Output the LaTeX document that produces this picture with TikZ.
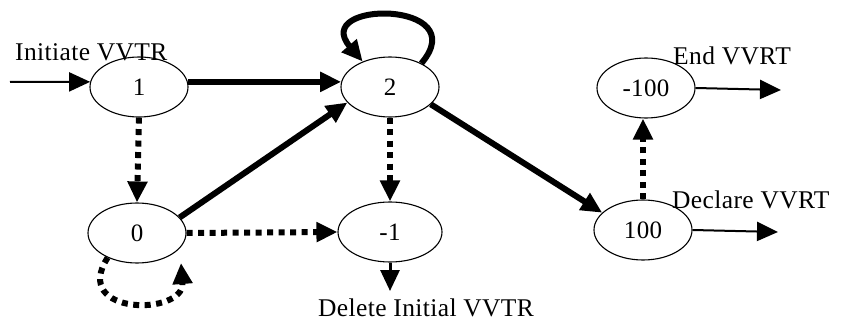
\documentclass[tikz,border=0pt]{standalone}
\usepackage{fontspec}
\setmainfont{Liberation Serif}[LetterSpace=1.5]
\usetikzlibrary{arrows.meta,shapes.geometric}
\tikzset{
  state/.style={draw, ellipse, line width=1.1pt, minimum width=98pt, minimum height=60pt, inner sep=0pt, font=\fontsize{25}{28}\selectfont},
  lbl/.style={font=\fontsize{25.5}{28}\selectfont, inner sep=0pt, anchor=base west},
  tip/.style={-{Triangle[length=21pt,width=19pt]}},
  thin/.style={tip, line width=2pt},
  thick/.style={tip, line width=6pt},
  dots/.style={tip, line width=6pt, dash pattern=on 6pt off 5.5pt}
}
\begin{document}
\begin{tikzpicture}[x=1pt,y=-1pt]
\useasboundingbox (0,0) rectangle (845,320);
\node[state] (n1) at (139,87) {1};
\node[state] (n2) at (390,87) {2};
\node[state] (n0) at (137,233) {0};
\node[state, minimum width=104pt] (nm1) at (390,232) {-1};
\node[state] (nm100) at (646,88) {-100};
\node[state] (n100) at (643,230) {100};

\coordinate (start) at (10,82);
\coordinate (l0) at (181,263);
\coordinate (del) at (390,291);
\coordinate (endout) at (781,90);
\coordinate (decout) at (778,232);

\node[lbl] (tinit) at (15,61) {Initiate VVTR};
\node[lbl] (tend) at (673,65) {End VVRT};
\node[lbl] (tdecl) at (672,209) {Declare VVRT};
\node[lbl] (tdel) at (318,316) {Delete Initial VVTR};

\draw[thin] (start) -- (n1.174);
\draw[thick] (n1.6) -- (n2.174);
\draw[thick] (n0.20) -- (n2.200);
\draw[thick] (n2.-23) -- (n100.157);
\draw[thick] (n2.37) .. controls (475,0) and (310,0) .. (n2.137);

\draw[dots] (n1.south) -- (n0.north);
\draw[dots] (n2.south) -- (nm1.north);
\draw[dots] (n0.east) -- (nm1.west);
\draw[dots] (n0.220) .. controls (70,316) and (185,316) .. (l0);
\draw[dots] (n100.north) -- (n100.north |- nm100.south);

\draw[thin, line width=3pt] (nm1.south) -- (del);
\draw[thin] (nm100.east) -- (endout);
\draw[thin] (n100.east) -- (decout);
\end{tikzpicture}
\end{document}
